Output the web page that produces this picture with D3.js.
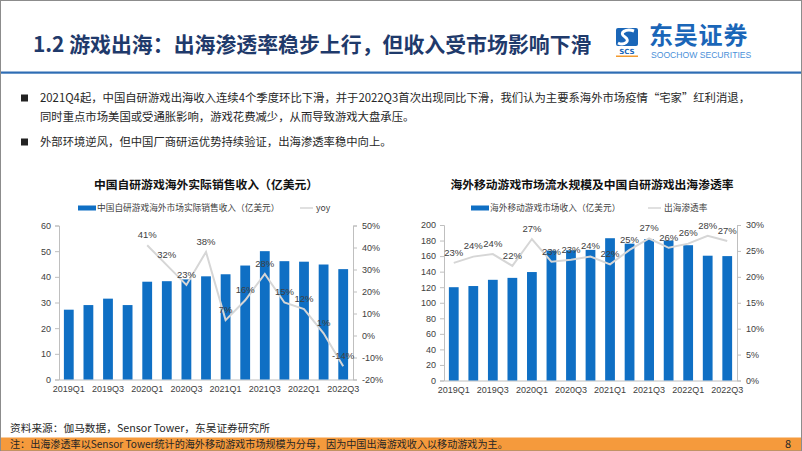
<!DOCTYPE html>
<html><head><meta charset="utf-8">
<script src="https://cdn.jsdelivr.net/npm/d3@7"></script>
<style>
body{margin:0;background:#fff;}
svg{display:block;font-family:"Noto Sans CJK SC","Noto Sans",sans-serif;}
</style>
</head><body>
<svg id="c" width="802" height="451"></svg>
<script>
// ---------- data ----------
const quarters = ["2019Q1","2019Q2","2019Q3","2019Q4","2020Q1","2020Q2","2020Q3","2020Q4","2021Q1","2021Q2","2021Q3","2021Q4","2022Q1","2022Q2","2022Q3"];
const overseasRevenue = [27.2,29.0,31.5,29.0,38.1,38.3,39.0,40.2,41.0,44.4,50.0,46.1,45.9,44.8,43.0];
const revenueYoY = [null,null,null,null,41,32,23,38,7,16,28,15,12,1,-14];
const mobileMarket = [120,121.5,129.5,132,139.5,167,167.5,168,183,176,182,180,174,160.5,160];
const penetration = [22.7,23.9,24.4,22.1,27.3,22.9,23.3,23.9,22.4,25.2,27.4,25.6,26.4,27.9,26.9];
const leftTicks = [0,10,20,30,40,50,60];
const yoyTicks = [-20,-10,0,10,20,30,40,50];
const rightTicks = [0,20,40,60,80,100,120,140,160,180,200];
const penTicks = [0,5,10,15,20,25,30];
const xTickLabels = quarters.filter((d,i)=>i%2===0);

const pageTitle = "1.2 游戏出海：出海渗透率稳步上行，但收入受市场影响下滑";
const bullets = [
  ["2021Q4起，中国自研游戏出海收入连续4个季度环比下滑，并于2022Q3首次出现同比下滑，我们认为主要系海外市场疫情“宅家”红利消退，",
   "同时重点市场美国或受通胀影响，游戏花费减少，从而导致游戏大盘承压。"],
  ["外部环境逆风，但中国厂商研运优势持续验证，出海渗透率稳中向上。"]
];
const leftTitle = "中国自研游戏海外实际销售收入（亿美元）";
const leftBarName = "中国自研游戏海外市场实际销售收入（亿美元）";
const leftLineName = "yoy";
const rightTitle = "海外移动游戏市场流水规模及中国自研游戏出海渗透率";
const rightBarName = "海外移动游戏市场收入（亿美元）";
const rightLineName = "出海渗透率";
const sourceText = "资料来源：伽马数据，Sensor Tower，东吴证券研究所";
const noteText = "注：出海渗透率以Sensor Tower统计的海外移动游戏市场规模为分母，因为中国出海游戏收入以移动游戏为主。";
const pageNum = "8";

// ---------- styles ----------
const BAR = "#0f6fc4", LINE = "#d6d6d6", AXIS = "#bfbfbf", TXT = "#404040";
const svg = d3.select("#c");

// page frame
svg.append("rect").attr("x",0.5).attr("y",0.5).attr("width",801).attr("height",450)
  .attr("fill","#fff").attr("stroke","#8c8c8c");

// title
svg.append("text").attr("x",33).attr("y",52).text(pageTitle)
  .attr("font-size",20.9).attr("font-weight","bold").attr("fill","#1f3a6b");

// separator
svg.append("rect").attr("x",1).attr("y",71.5).attr("width",800).attr("height",2.2).attr("fill","#2e6db4");

// logo
const logo = svg.append("g");
logo.append("rect").attr("x",616).attr("y",28).attr("width",22).attr("height",18).attr("rx",2).attr("fill","#1a66b8");
logo.append("path").attr("d","M634,31 C626,28 618,33 625,37 C631,41 624,46 618,43")
  .attr("fill","none").attr("stroke","#fff").attr("stroke-width",3);
logo.append("text").attr("x",627).attr("y",54).attr("text-anchor","middle").text("SCS")
  .attr("font-size",7).attr("font-weight","bold").attr("fill","#1a66b8").attr("font-family","DejaVu Sans");
logo.append("rect").attr("x",616).attr("y",55.5).attr("width",22).attr("height",1.5).attr("fill","#f39a2e");
logo.append("text").attr("x",649).attr("y",44).text("东吴证券")
  .attr("font-size",24).attr("font-weight","bold").attr("fill","#1a66b8").attr("letter-spacing",0.8);
logo.append("text").attr("x",651).attr("y",58).text("SOOCHOW SECURITIES")
  .attr("font-size",8.6).attr("fill","#4a90d9").attr("font-family","Liberation Sans");

// bullets
const bulletY = [[98,117],[142]];
bullets.forEach((lines,bi)=>{
  svg.append("rect").attr("x",21).attr("y",bulletY[bi][0]-3.5).attr("width",7).attr("height",7).attr("fill","#222");
  lines.forEach((t,li)=>{
    svg.append("text").attr("x",40).attr("y",bulletY[bi][li]).attr("dy","0.35em").text(t)
      .attr("font-size",11.35).attr("fill","#262626");
  });
});

// ---------- chart helper ----------
function chart(o){
  const g = svg.append("g");
  const x = d3.scaleBand().domain(quarters).range([o.x0,o.x1]).paddingInner(0.5).paddingOuter(0.25);
  const yL = d3.scaleLinear().domain(o.lDomain).range([o.yb,o.yt]);
  const yR = d3.scaleLinear().domain(o.rDomain).range([o.yb,o.yt]);

  g.append("text").attr("x",o.titleX).attr("y",185).attr("text-anchor","middle").attr("dy","0.35em")
    .text(o.title).attr("font-size",11.8).attr("font-weight","bold").attr("fill","#111");

  // legend
  g.append("rect").attr("x",o.legX).attr("y",205.5).attr("width",18).attr("height",5).attr("fill",BAR);
  g.append("text").attr("x",o.legX+19).attr("y",208).attr("dy","0.35em").text(o.barName)
    .attr("font-size",8.7).attr("fill",TXT);
  g.append("line").attr("x1",o.legLX).attr("x2",o.legLX+13).attr("y1",208).attr("y2",208)
    .attr("stroke",LINE).attr("stroke-width",1.5);
  g.append("text").attr("x",o.legLX+16).attr("y",208).attr("dy","0.35em").text(o.lineName)
    .attr("font-size",8.7).attr("fill",TXT);

  // axes
  const aL = g.append("g").attr("transform",`translate(${o.x0},0)`)
    .call(d3.axisLeft(yL).tickValues(o.lTicks).tickSize(4).tickPadding(4));
  const aR = g.append("g").attr("transform",`translate(${o.x1},0)`)
    .call(d3.axisRight(yR).tickValues(o.rTicks).tickSize(4).tickPadding(5).tickFormat(d=>d+"%"));
  const aB = g.append("g").attr("transform",`translate(0,${o.yb})`)
    .call(d3.axisBottom(x).tickValues(xTickLabels).tickSize(0).tickPadding(6));
  [aL,aR,aB].forEach(a=>{
    a.select(".domain").attr("stroke",AXIS);
    a.selectAll(".tick line").attr("stroke",AXIS);
    a.selectAll("text").attr("font-size",9).attr("fill",TXT).attr("font-family","Liberation Sans");
  });

  // bars
  g.append("g").selectAll("rect").data(o.bars).join("rect")
    .attr("x",(d,i)=>x(quarters[i])).attr("width",x.bandwidth())
    .attr("y",d=>yL(d)).attr("height",d=>o.yb-yL(d)).attr("fill",BAR);

  // line
  const pts = o.line.map((v,i)=>({q:quarters[i],v})).filter(d=>d.v!==null);
  const cx = d=>x(d.q)+x.bandwidth()/2;
  g.append("path").datum(pts)
    .attr("d",d3.line().x(cx).y(d=>yR(d.v)))
    .attr("fill","none").attr("stroke",LINE).attr("stroke-width",2);
  g.append("g").selectAll("text").data(pts).join("text")
    .attr("x",cx).attr("y",d=>yR(d.v)-10.5).attr("dy","0.35em").attr("text-anchor","middle")
    .text(d=>Math.round(d.v)+"%").attr("font-size",9.5).attr("fill",TXT).attr("font-family","Liberation Sans");
}

chart({x0:59,x1:353,yt:225.5,yb:379.5,lDomain:[0,60],rDomain:[-20,50],
  lTicks:leftTicks,rTicks:yoyTicks,bars:overseasRevenue,line:revenueYoY,
  title:leftTitle,titleX:206,barName:leftBarName,lineName:leftLineName,legX:78,legLX:300});
chart({x0:444,x1:737,yt:225,yb:380.5,lDomain:[0,200],rDomain:[0,30],
  lTicks:rightTicks,rTicks:penTicks,bars:mobileMarket,line:penetration,
  title:rightTitle,titleX:592,barName:rightBarName,lineName:rightLineName,legX:471,legLX:648});

// footer
svg.append("text").attr("x",10).attr("y",428).attr("dy","0.35em").text(sourceText)
  .attr("font-size",10.7).attr("fill","#262626");
svg.append("rect").attr("x",1).attr("y",437.5).attr("width",800).attr("height",13).attr("fill","#f59a3c");
svg.append("text").attr("x",10).attr("y",444).attr("dy","0.35em").text(noteText)
  .attr("font-size",10.1).attr("fill","#262626");
svg.append("text").attr("x",785).attr("y",444).attr("dy","0.35em").text(pageNum)
  .attr("font-size",11).attr("fill","#262626");
</script>
</body></html>
